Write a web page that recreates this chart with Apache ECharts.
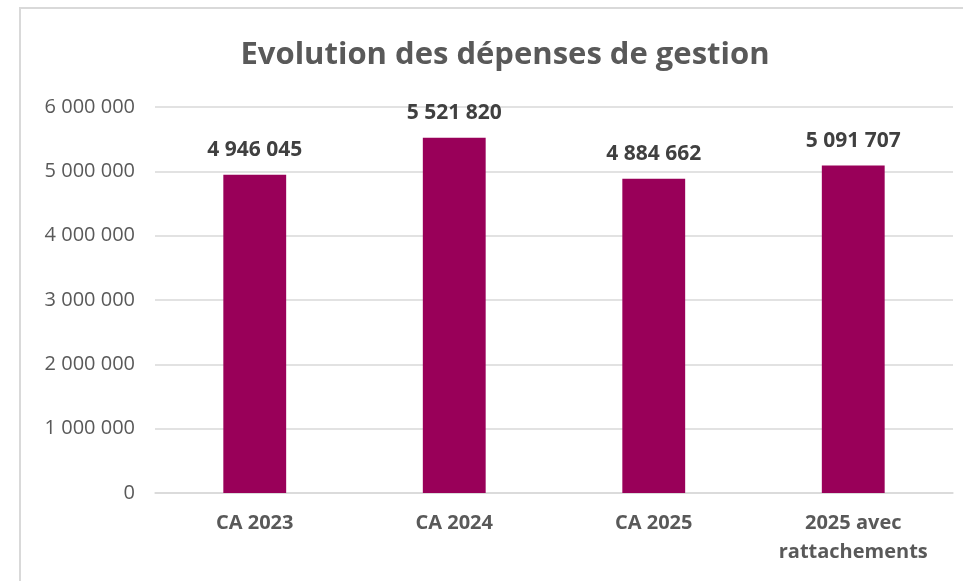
<!DOCTYPE html>
<html>
<head>
<meta charset="utf-8">
<script src="https://cdn.jsdelivr.net/npm/echarts@6/dist/echarts.min.js"></script>
<style>
  html, body { margin: 0; padding: 0; background: #fff; }
  #chart { width: 963px; height: 581px; }
</style>
</head>
<body>
<div id="chart"></div>
<script>
const categories = ['CA 2023', 'CA 2024', 'CA 2025', '2025 avec\nrattachements'];
const depenses = [4946045, 5521820, 4884662, 5091707];
const yMax = 6000000;
const yStep = 1000000;

// nombres avec espaces comme séparateur de milliers
function fmt(v) {
  return String(v).replace(/\B(?=(\d{3})+(?!\d))/g, ' ');
}

const font = '"Open Sans", "Noto Sans", sans-serif';

const option = {
  backgroundColor: '#fff',
  animation: false,
  title: {
    text: 'Evolution des dépenses de gestion',
    left: 500,
    top: 35,
    textAlign: 'center',
    textStyle: {
      fontFamily: font,
      fontSize: 31,
      fontWeight: 'bold',
      color: '#595959'
    }
  },
  graphic: [
    {
      type: 'rect',
      shape: { x: 20, y: 8, width: 1000, height: 700 },
      style: { fill: 'none', stroke: '#d9d9d9', lineWidth: 2 },
      silent: true
    }
  ],
  grid: {
    left: 155,
    right: 10,
    top: 107,
    bottom: 88
  },
  xAxis: {
    type: 'category',
    data: categories,
    axisLine: { show: true, lineStyle: { color: '#d9d9d9', width: 1.5 } },
    axisTick: { show: false },
    axisLabel: {
      margin: 16,
      fontFamily: font,
      fontSize: 20,
      fontWeight: 'bold',
      color: '#595959',
      lineHeight: 29
    }
  },
  yAxis: {
    type: 'value',
    min: 0,
    max: yMax,
    interval: yStep,
    axisLine: { show: false },
    axisTick: { show: false },
    splitLine: { lineStyle: { color: '#d9d9d9', width: 1.5 } },
    axisLabel: {
      margin: 20,
      fontFamily: font,
      fontSize: 20,
      color: '#595959',
      formatter: fmt
    }
  },
  series: [
    {
      type: 'bar',
      data: depenses,
      barWidth: '31.5%',
      itemStyle: { color: '#990059' },
      label: {
        show: true,
        position: 'top',
        distance: 14,
        fontFamily: font,
        fontSize: 21,
        fontWeight: 'bold',
        color: '#404040',
        formatter: p => fmt(p.value)
      }
    }
  ]
};

const chart = echarts.init(document.getElementById('chart'));
chart.setOption(option);
</script>
</body>
</html>
